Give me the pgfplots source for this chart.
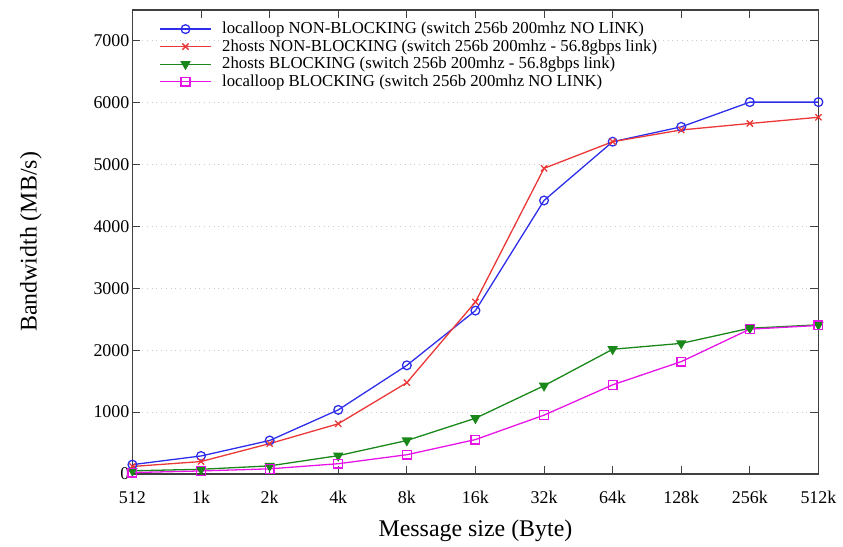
\documentclass[border=0pt]{standalone}
\usepackage{fontspec}
\setmainfont{Liberation Serif}
\usepackage{pgfplots}
\pgfplotsset{compat=1.18}
\definecolor{cblue}{RGB}{45,45,235}
\definecolor{cred}{RGB}{235,55,55}
\definecolor{cgreen}{RGB}{25,135,25}
\definecolor{cmag}{RGB}{230,20,230}
\begin{document}
\begin{tikzpicture}
\begin{axis}[
  name=ax,
  scale only axis,
  width=344.5pt, height=233pt,
  xmin=0, xmax=10, ymin=0, ymax=7500,
  xtick={0,...,10},
  xticklabels={512,1k,2k,4k,8k,16k,32k,64k,128k,256k,512k},
  ytick={0,1000,...,7000},
  scaled y ticks=false,
  /pgf/number format/assume math mode=true,
  yticklabel={\pgfmathprintnumber[fixed,1000 sep={}]{\tick}},
  tick label style={font=\fontsize{9}{10}\selectfont},
  tick align=inside,
  major tick length=4pt,
  axis line style={line width=0.6pt, black!75},
  every tick/.style={black!75, line width=0.5pt},
  ymajorgrids,
  grid style={dotted, black!20, line width=0.5pt},
  xlabel={Message size (Byte)},
  ylabel={Bandwidth (MB/s)},
  label style={font=\fontsize{12}{14}\selectfont, inner sep=0pt},
  xlabel style={at={(axis description cs:0.5,0)}, anchor=center, yshift=-28.5pt},
  ylabel style={at={(axis description cs:0,0.5)}, anchor=center, yshift=51pt},
  yticklabel style={xshift=2pt},
  xticklabel style={yshift=-5.3pt},
  legend style={at={(rel axis cs:0.03,0.987)}, anchor=north west, draw=none, fill=none,
    font=\fontsize{8.4}{9}\selectfont, row sep=0pt,
    nodes={text height=6.4pt, text depth=1.8pt, inner sep=0.3pt},
    /tikz/every odd column/.append style={column sep=5pt}},
  legend cell align=left,
  legend image code/.code={\draw[mark repeat=2,mark phase=2] plot coordinates {(0cm,0cm) (0.45cm,0cm) (0.9cm,0cm)};},
  every axis plot/.append style={line width=0.65pt},
]
\addplot[cblue, mark=o, mark size=2.2pt, mark options={line width=0.65pt}] coordinates {
(0,150) (1,290) (2,540) (3,1035) (4,1755) (5,2640) (6,4420) (7,5370) (8,5610) (9,6010) (10,6010)};
\addlegendentry{localloop NON-BLOCKING (switch 256b 200mhz NO LINK)}
\addplot[cred, mark=x, mark size=2.2pt, mark options={line width=0.65pt}] coordinates {
(0,120) (1,200) (2,490) (3,810) (4,1475) (5,2780) (6,4940) (7,5370) (8,5560) (9,5665) (10,5765)};
\addlegendentry{2hosts NON-BLOCKING (switch 256b 200mhz - 56.8gbps link)}
\addplot[cgreen, mark=triangle*, mark size=2.4pt, mark options={rotate=180}] coordinates {
(0,50) (1,75) (2,130) (3,295) (4,540) (5,900) (6,1425) (7,2015) (8,2110) (9,2355) (10,2410)};
\addlegendentry{2hosts BLOCKING (switch 256b 200mhz - 56.8gbps link)}
\addplot[cmag, mark=square, mark size=2.2pt, mark options={line width=0.65pt}] coordinates {
(0,22) (1,48) (2,82) (3,165) (4,310) (5,555) (6,950) (7,1440) (8,1815) (9,2340) (10,2400)};
\addlegendentry{localloop BLOCKING (switch 256b 200mhz NO LINK)}
\end{axis}
\path (ax.north west) ++(0,5pt);
\path (ax.south west) ++(-66.5pt,-36.5pt);
\path (ax.south east) ++(10.5pt,0);
\end{tikzpicture}
\end{document}
